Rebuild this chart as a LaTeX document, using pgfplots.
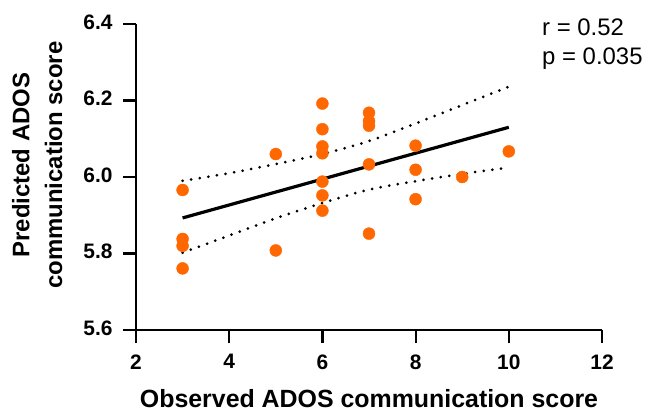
\documentclass[border=0pt]{standalone}
\usepackage{fontspec}
\setmainfont{Liberation Sans}
\usepackage{pgfplots}
\pgfplotsset{compat=1.18}
\definecolor{dotorange}{RGB}{255,104,0}
\begin{document}
\begin{tikzpicture}
\useasboundingbox (-136bp,-83bp) rectangle (516bp,330bp);
\begin{axis}[
  scale only axis,
  width=466bp, height=306bp,
  at={(0,0)}, anchor=south west,
  xmin=2, xmax=12, ymin=5.6, ymax=6.4,
  xtick={2,4,...,12},
  ytick={5.6,5.8,6.0,6.2,6.4},
  yticklabel style={/pgf/number format/fixed,/pgf/number format/fixed zerofill,/pgf/number format/precision=1},
  /pgf/number format/assume math mode=true,
  axis x line*=bottom, axis y line*=left,
  axis line style={line width=2.2bp},
  tick style={line width=2.2bp, black},
  tick align=outside,
  major tick length=13bp,
  ticklabel style={font=\bfseries\fontsize{21}{21}\selectfont},
  xticklabel style={yshift=-8bp},
  yticklabel style={xshift=-7bp, yshift=2bp},
  xlabel={Observed ADOS communication score},
  ylabel={Predicted ADOS\\communication score},
  xlabel style={font=\bfseries\fontsize{25}{25}\selectfont, at={(axis description cs:0.5,0)}, anchor=base, yshift=-77bp},
  ylabel style={font=\bfseries\fontsize{24}{33}\selectfont, align=center, at={(axis description cs:-0.212,0.539)}, anchor=center},
  clip=false,
]
\addplot[only marks, mark=*, mark size=6bp, dotorange, mark options={draw=dotorange, fill=dotorange}] coordinates {
(3,5.966) (3,5.838) (3,5.820) (3,5.761)
(5,6.060) (5,5.808)
(6,6.192) (6,6.125) (6,6.080) (6,6.062) (6,5.988) (6,5.952) (6,5.912)
(7,6.168) (7,6.146) (7,6.134) (7,6.033) (7,5.852)
(8,6.082) (8,6.019) (8,5.942)
(9,6.000)
(10,6.067)
};
\addplot[black, line width=3.2bp] coordinates {(3,5.893) (10,6.130)};
\addplot[black, line width=3bp, line cap=round, dash pattern=on 0bp off 8.7bp, smooth] coordinates {
(3,5.990) (4,6.010) (5,6.034) (6,6.060) (7,6.094) (8,6.140) (9,6.188) (10,6.236)};
\addplot[black, line width=3bp, line cap=round, dash pattern=on 0bp off 8.7bp, smooth] coordinates {
(3,5.802) (4,5.847) (5,5.892) (6,5.932) (7,5.967) (8,5.989) (9,6.008) (10,6.025)};
\end{axis}
\node[anchor=base west, font=\fontsize{24}{24}\selectfont, inner sep=0pt] at (406bp,294bp) {r = 0.52};
\node[anchor=base west, font=\fontsize{24}{24}\selectfont, inner sep=0pt] at (406bp,265bp) {p = 0.035};
\end{tikzpicture}
\end{document}
